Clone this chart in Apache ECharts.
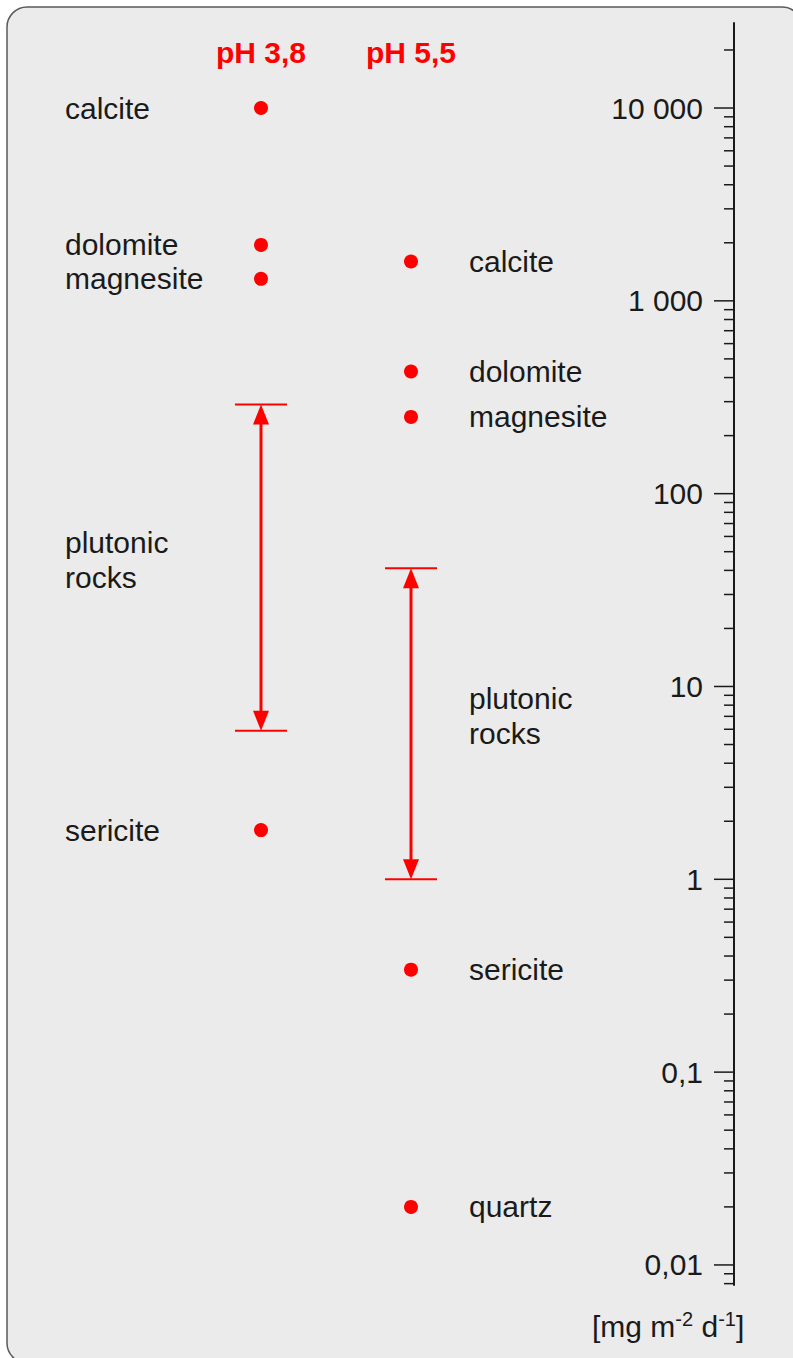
<!DOCTYPE html>
<html>
<head>
<meta charset="utf-8">
<script src="https://cdn.jsdelivr.net/npm/echarts@6/dist/echarts.min.js"></script>
<style>
  html, body { margin: 0; padding: 0; background: #ffffff; }
  #chart { width: 793px; height: 1358px; }
</style>
</head>
<body>
<div id="chart"></div>
<script>
// Dissolution rates of minerals at two pH levels [mg m-2 d-1]
const columns = ['pH 3,8', 'pH 5,5'];

const minerals38 = ['calcite', 'dolomite', 'magnesite', 'sericite'];
const rates38 = [10000, 1950, 1300, 1.8];

const minerals55 = ['calcite', 'dolomite', 'magnesite', 'sericite', 'quartz'];
const rates55 = [1600, 430, 250, 0.34, 0.02];

// plutonic rocks: range of rates per pH column
const rockName = 'plutonic\nrocks';
const rockLow = [5.9, 1];
const rockHigh = [290, 41];

// log axis: labelled decades
const tickValues = [0.01, 0.1, 1, 10, 100, 1000, 10000];
const tickLabels = ['0,01', '0,1', '1', '10', '100', '1 000', '10 000'];

const Y_MIN = 0.00787;
const Y_MAX = 27600;

const RED = '#ff0000';
const INK = '#1a1a1a';
const FONT = '"Liberation Sans", Arial, Helvetica, sans-serif';
const FONT_SIZE = 30;
const AXIS_OFFSET = 248;

// unlabelled 2..9 steps within every decade shown on the axis
const minorTicks = [];
for (let e = -3; e <= 4; e++) {
  for (let m = 2; m <= 9; m++) {
    const v = m * Math.pow(10, e);
    if (v >= Y_MIN && v <= Y_MAX) minorTicks.push(v);
  }
}
const allTicks = tickValues.concat(minorTicks);

function renderTick(params, api) {
  const cs = params.coordSys;
  const axisX = cs.x + cs.width + AXIS_OFFSET;
  const y = api.coord([0, api.value(1)])[1];
  const major = params.dataIndex < tickValues.length;
  const len = major ? 20 : 10;
  const children = [{
    type: 'line',
    shape: { x1: axisX - len, y1: y, x2: axisX, y2: y },
    style: { stroke: INK, lineWidth: 1.5 }
  }];
  if (major) {
    children.push({
      type: 'text',
      style: {
        text: tickLabels[params.dataIndex],
        x: axisX - 31, y: y,
        align: 'right', verticalAlign: 'middle',
        fontSize: FONT_SIZE, fontFamily: FONT, fill: INK
      }
    });
  }
  return { type: 'group', children: children };
}

function renderRange(params, api) {
  const i = params.dataIndex;
  const top = api.coord([api.value(0), api.value(2)]);
  const bot = api.coord([api.value(0), api.value(1)]);
  const x = top[0];
  const capHalf = 26, headLen = 20, headHalf = 8;
  const midY = (top[1] + bot[1]) / 2 - 8;
  const labelX = i === 0 ? x - 196 : x + 58;
  return {
    type: 'group',
    children: [
      { type: 'line', shape: { x1: x, y1: top[1] + headLen - 2, x2: x, y2: bot[1] - headLen + 2 },
        style: { stroke: RED, lineWidth: 3 } },
      { type: 'line', shape: { x1: x - capHalf, y1: top[1], x2: x + capHalf, y2: top[1] },
        style: { stroke: RED, lineWidth: 2 } },
      { type: 'line', shape: { x1: x - capHalf, y1: bot[1], x2: x + capHalf, y2: bot[1] },
        style: { stroke: RED, lineWidth: 2 } },
      { type: 'polygon', shape: { points: [[x, top[1]], [x - headHalf, top[1] + headLen], [x + headHalf, top[1] + headLen]] },
        style: { fill: RED } },
      { type: 'polygon', shape: { points: [[x, bot[1]], [x - headHalf, bot[1] - headLen], [x + headHalf, bot[1] - headLen]] },
        style: { fill: RED } },
      { type: 'text', style: {
          text: rockName, x: labelX, y: midY,
          align: 'left', verticalAlign: 'middle',
          fontSize: FONT_SIZE, lineHeight: 35, fontFamily: FONT, fill: INK } }
    ]
  };
}

function pointLabel(dx) {
  return {
    show: true,
    formatter: '{b}',
    position: [dx, 7],
    align: 'left',
    verticalAlign: 'middle',
    fontSize: FONT_SIZE,
    fontFamily: FONT,
    color: INK,
    opacity: 1
  };
}

const chart = echarts.init(document.getElementById('chart'), null, { renderer: 'svg' });

chart.setOption({
  backgroundColor: '#ffffff',
  animation: false,
  grid: { left: 186, right: 307, top: 23, bottom: 73, containLabel: false },
  xAxis: {
    type: 'category',
    data: columns,
    position: 'top',
    boundaryGap: true,
    axisLine: { show: false },
    axisTick: { show: false },
    splitLine: { show: false },
    axisLabel: {
      inside: true,
      margin: 29,
      verticalAlign: 'middle',
      color: RED,
      fontWeight: 'bold',
      fontSize: FONT_SIZE,
      fontFamily: FONT
    }
  },
  yAxis: {
    type: 'log',
    logBase: 10,
    min: Y_MIN,
    max: Y_MAX,
    position: 'right',
    offset: AXIS_OFFSET,
    axisLine: { show: true, lineStyle: { color: INK, width: 2 } },
    axisTick: { show: false },
    axisLabel: { show: false },
    splitLine: { show: false },
    minorTick: { show: false }
  },
  graphic: [
    {
      type: 'rect',
      z: -100,
      silent: true,
      shape: { x: 7, y: 7, width: 795, height: 1356, r: 20 },
      style: { fill: '#ebebeb', stroke: '#5a5a5a', lineWidth: 1.5 }
    },
    {
      type: 'text',
      left: 592,
      top: 1309,
      style: {
        text: '[mg m{sup|-2} d{sup|-1}]',
        fontSize: FONT_SIZE,
        fontFamily: FONT,
        fill: INK,
        lineHeight: 34,
        rich: {
          sup: { fontSize: 20, fontFamily: FONT, fill: INK, verticalAlign: 'top', lineHeight: 20 }
        }
      }
    }
  ],
  series: [
    {
      type: 'custom',
      name: 'axis ticks',
      silent: true,
      renderItem: renderTick,
      data: allTicks.map(v => [0, v]),
      z: 3
    },
    {
      type: 'custom',
      name: rockName,
      renderItem: renderRange,
      data: rockLow.map((lo, i) => [i, lo, rockHigh[i]]),
      z: 3
    },
    {
      type: 'scatter',
      name: columns[0],
      symbol: 'circle',
      symbolSize: 14,
      itemStyle: { color: RED, opacity: 1 },
      label: pointLabel(-189),
      data: rates38.map((v, i) => ({ name: minerals38[i], value: [0, v] })),
      z: 4
    },
    {
      type: 'scatter',
      name: columns[1],
      symbol: 'circle',
      symbolSize: 14,
      itemStyle: { color: RED, opacity: 1 },
      label: pointLabel(65),
      data: rates55.map((v, i) => ({ name: minerals55[i], value: [1, v] })),
      z: 4
    }
  ]
});
</script>
</body>
</html>
